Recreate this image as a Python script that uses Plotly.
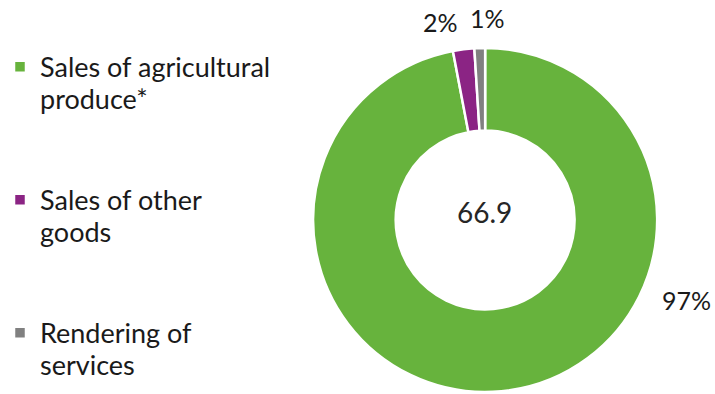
import plotly.graph_objects as go

labels = ["Sales of agricultural produce*", "Sales of other goods", "Rendering of services"]
legend_lines = [["Sales of agricultural", "produce*"],
                ["Sales of other", "goods"],
                ["Rendering of", "services"]]
values = [97, 2, 1]
colors = ["#67B33D", "#8B2484", "#808080"]
total_label = "66.9"

FONT = "Lato"
SPAN = "<span style='font-size:27px'>{}</span>"

legend_text = []
for i, lines in enumerate(legend_lines):
    body = "<br>".join(SPAN.format(s) for s in lines)
    if i < len(legend_lines) - 1:
        body += "<br> <br> "
    legend_text.append(body)

fig = go.Figure()
fig.add_trace(go.Pie(
    labels=legend_text,
    values=values,
    hole=0.52,
    sort=False,
    direction="clockwise",
    rotation=0,
    marker=dict(colors=colors, line=dict(color="white", width=2.5)),
    textinfo="none",
    hoverinfo="percent",
    domain=dict(x=[312/715, 657/715], y=[(394-392.5)/394, (394-47.5)/394]),
))

tot = sum(values)
pct = [f"{round(v / tot * 100)}%" for v in values]
label_pos = [(686, 300), (440, 22), (487, 18)]
for p, (px, py) in zip(pct, label_pos):
    fig.add_annotation(text=p, x=px/715, y=1 - py/394, xref="paper", yref="paper",
                       xanchor="center", yanchor="middle",
                       showarrow=False, font=dict(size=25, color="#1a1a1a", family=FONT))
fig.add_annotation(text=total_label, x=484/715, y=1 - 212/394, xref="paper", yref="paper",
                   xanchor="center", yanchor="middle",
                   showarrow=False, font=dict(size=28, color="#262626", family=FONT))

fig.update_layout(
    width=715, height=394,
    margin=dict(l=0, r=0, t=0, b=0),
    paper_bgcolor="white", plot_bgcolor="white",
    showlegend=True,
    legend=dict(x=-0.003, y=1 - 44/394, xanchor="left", yanchor="top", valign="top",
                font=dict(size=25, color="#1a1a1a", family=FONT),
                traceorder="normal"),
)
fig.write_html("out.html")
